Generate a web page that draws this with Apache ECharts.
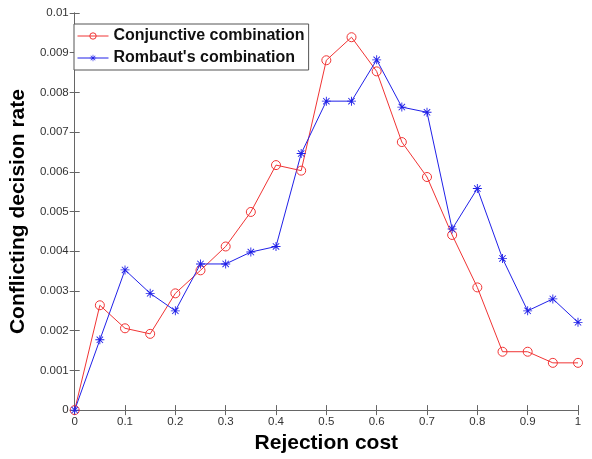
<!DOCTYPE html>
<html>
<head>
<meta charset="utf-8">
<script src="https://cdn.jsdelivr.net/npm/echarts@6/dist/echarts.min.js"></script>
<style>
  html, body { margin: 0; padding: 0; background: #fff; }
  #chart { width: 592px; height: 459px; }
</style>
</head>
<body>
<div id="chart"></div>
<script>
var costs = [0, 0.05, 0.1, 0.15, 0.2, 0.25, 0.3, 0.35, 0.4, 0.45, 0.5,
  0.55, 0.6, 0.65, 0.7, 0.75, 0.8, 0.85, 0.9, 0.95, 1];
var conjunctive = [0, 0.00264, 0.00206, 0.00192, 0.00294, 0.00352, 0.00412, 0.00499, 0.00617, 0.00603, 0.00881,
  0.00939, 0.00853, 0.00675, 0.00587, 0.00441, 0.00309, 0.00147, 0.00147, 0.00119, 0.00119];
var rombaut = [0, 0.00177, 0.00353, 0.00294, 0.0025, 0.00368, 0.00368, 0.00398, 0.00412, 0.00646, 0.00778,
  0.00778, 0.00882, 0.00763, 0.0075, 0.00456, 0.00558, 0.00382, 0.0025, 0.0028, 0.00221];
var seriesNames = ['Conjunctive combination', "Rombaut's combination"];

// asterisk marker built from thin bars
var asterisk = 'path://M9,0 L11,0 L11,20 L9,20 Z M0,9 L20,9 L20,11 L0,11 Z ' +
  'M2.2,3.6 L3.6,2.2 L17.8,16.4 L16.4,17.8 Z M16.4,2.2 L17.8,3.6 L3.6,17.8 L2.2,16.4 Z';

function pairs(ys) {
  return costs.map(function (x, i) { return [x, ys[i]]; });
}

var chart = echarts.init(document.getElementById('chart'), null, { renderer: 'canvas' });

var font = 'Liberation Sans, Arial, sans-serif';
var tickLabel = { color: '#333', fontSize: 11.5, fontFamily: font };
var axisLine = { show: true, lineStyle: { color: '#666', width: 1 } };
var tick = { show: true, inside: true, length: 5, lineStyle: { color: '#666' } };
var red = '#f03434';
var blue = '#2020e8';

chart.setOption({
  animation: false,
  grid: { left: 68, right: 14, top: 13, bottom: 44 },
  legend: {
    orient: 'vertical',
    left: 74,
    top: 24,
    padding: [3, 4, 3, 3],
    itemGap: 4,
    itemWidth: 31,
    itemHeight: 8,
    borderColor: '#555',
    borderWidth: 1,
    backgroundColor: '#fff',
    lineStyle: { width: 1 },
    itemStyle: { borderWidth: 1 },
    textStyle: { fontSize: 16, lineHeight: 18, fontWeight: 'bold', color: '#111', fontFamily: font },
    data: seriesNames
  },
  xAxis: [{
    type: 'value', min: 0, max: 1, interval: 0.1,
    name: 'Rejection cost', nameLocation: 'middle', nameGap: 22,
    nameTextStyle: { fontSize: 21, fontWeight: 'bold', color: '#000', fontFamily: font },
    axisLine: axisLine, axisTick: tick, splitLine: { show: false },
    axisLabel: Object.assign({ margin: 6, formatter: function (v) { return String(+v.toFixed(1)); } }, tickLabel)
  }, {
    type: 'value', min: 0, max: 1, interval: 0.1, position: 'top',
    axisLine: axisLine, axisTick: tick, axisLabel: { show: false }, splitLine: { show: false }
  }],
  yAxis: [{
    type: 'value', min: 0, max: 0.01, interval: 0.001,
    name: 'Conflicting decision rate', nameLocation: 'middle', nameGap: 44,
    nameTextStyle: { fontSize: 21, fontWeight: 'bold', color: '#000', fontFamily: font },
    axisLine: axisLine, axisTick: tick, splitLine: { show: false },
    axisLabel: Object.assign({ margin: 6, formatter: function (v) { return String(+v.toFixed(3)); } }, tickLabel)
  }, {
    type: 'value', min: 0, max: 0.01, interval: 0.001, position: 'right',
    axisLine: axisLine, axisTick: tick, axisLabel: { show: false }, splitLine: { show: false }
  }],
  series: [{
    name: seriesNames[0],
    type: 'line',
    data: pairs(conjunctive),
    symbol: 'circle',
    symbolSize: 9,
    lineStyle: { color: red, width: 1 },
    itemStyle: { color: 'rgba(255,255,255,0)', borderColor: red, borderWidth: 1 }
  }, {
    name: seriesNames[1],
    type: 'line',
    data: pairs(rombaut),
    symbol: asterisk,
    symbolSize: 9,
    lineStyle: { color: blue, width: 1 },
    itemStyle: { color: blue }
  }]
});
</script>
</body>
</html>
